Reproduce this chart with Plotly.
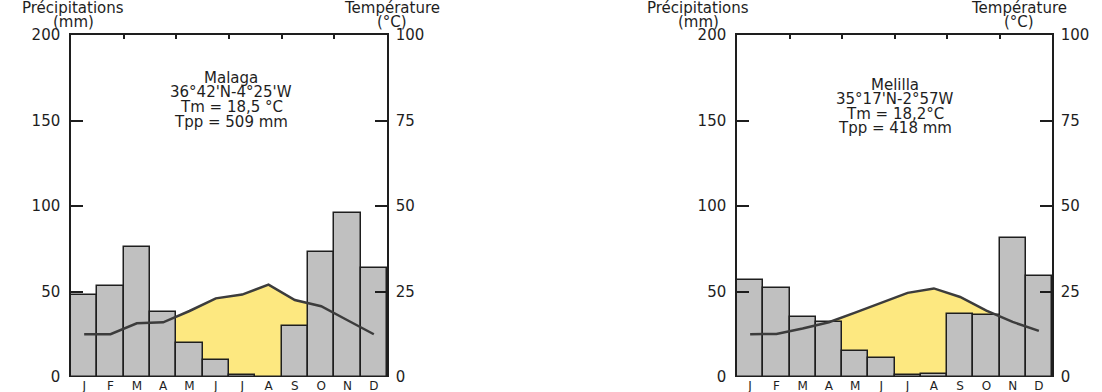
import plotly.graph_objects as go

months = ["J", "F", "M", "A", "M", "J", "J", "A", "S", "O", "N", "D"]

malaga_precip = [48, 53, 76, 38, 20, 10, 1, 0, 30, 73, 96, 64]
malaga_temp = [12.5, 12.5, 15.7, 16.0, 19.3, 23.0, 24.1, 27.0, 22.5, 20.7, 16.6, 12.5]
malaga_text = ["Malaga", "36°42'N-4°25'W", "Tm = 18,5 °C", "Tpp = 509 mm"]

melilla_precip = [57, 52, 35, 32, 15, 11, 1, 2, 37, 36, 81, 59]
melilla_temp = [12.5, 12.6, 14.2, 16.0, 18.8, 21.8, 24.6, 25.9, 23.4, 19.4, 16.1, 13.5]
melilla_text = ["Melilla", "35°17'N-2°57W", "Tm = 18,2°C", "Tpp = 418 mm"]

precip_ticks = [0, 50, 100, 150, 200]
temp_ticks = [0, 25, 50, 75, 100]
top_ticks = [1.5, 3.5, 5.5, 7.5, 9.5]

FONT = "DejaVu Sans"
DARK = "#1e1e1e"
BAR = "#c0c0c0"
YELLOW = "#fde880"
LINE = "#3c3c3c"

W, H = 1102, 392
T, B = 35, 15

xs = list(range(12))

fig = go.Figure()

charts = [
    dict(p=malaga_precip, t=malaga_temp, txt=malaga_text,
         x="x", xt="x3", yt="y", yp="y2", yl="y3",
         dom=[71 / W, 387 / W], ty=[78, 92, 107, 122], cx=231,
         px=73, tx=392),
    dict(p=melilla_precip, t=melilla_temp, txt=melilla_text,
         x="x2", xt="x4", yt="y4", yp="y5", yl="y6",
         dom=[737 / W, 1052 / W], ty=[85, 99, 114, 128], cx=895,
         px=698, tx=1019),
]

def py(pix):
    return (H - B - pix) / (H - T - B)

def name(a):
    return a[0] + "axis" + a[1:]

annotations = []
for c in charts:
    # yellow dry-season area under temperature curve (base layer)
    fig.add_trace(go.Scatter(x=xs, y=c["t"], xaxis=c["x"], yaxis=c["yt"],
                             mode="lines", line=dict(width=0, color=YELLOW),
                             fill="tozeroy", fillcolor=YELLOW, hoverinfo="skip"))
    # precipitation bars (middle layer)
    fig.add_trace(go.Bar(x=xs, y=c["p"], xaxis=c["x"], yaxis=c["yp"],
                         marker=dict(color=BAR, line=dict(color=DARK, width=1.5)),
                         hoverinfo="skip"))
    # temperature line (top layer)
    fig.add_trace(go.Scatter(x=xs, y=c["t"], xaxis=c["xt"], yaxis=c["yl"],
                             mode="lines", line=dict(color=LINE, width=2.5),
                             hoverinfo="skip"))

    fig.layout[name(c["x"])] = dict(
        domain=c["dom"], anchor=c["yt"], range=[-0.5, 11.5],
        tickvals=xs, ticktext=months, ticks="", showline=False,
        showgrid=False, zeroline=False,
        tickfont=dict(family=FONT, size=12, color=DARK))
    fig.layout[name(c["xt"])] = dict(
        overlaying=c["x"], anchor=c["yl"], side="top", range=[-0.5, 11.5],
        tickvals=top_ticks, ticks="inside", ticklen=4, tickwidth=1.5,
        tickcolor=DARK, showticklabels=False, showline=True,
        linecolor=DARK, linewidth=1.5, showgrid=False, zeroline=False)
    fig.layout[name(c["yt"])] = dict(
        anchor=c["x"], side="right", range=[0, 100], tickvals=temp_ticks,
        ticks="inside", ticklen=12, tickwidth=1.5, tickcolor=DARK,
        showline=True, linecolor=DARK, linewidth=1.5, showgrid=False,
        zeroline=False, ticklabelstandoff=4,
        tickfont=dict(family=FONT, size=15, color=DARK))
    fig.layout[name(c["yp"])] = dict(
        overlaying=c["yt"], anchor=c["x"], side="left", range=[0, 200],
        tickvals=precip_ticks, ticks="inside", ticklen=12, tickwidth=1.5,
        tickcolor=DARK, showline=True, linecolor=DARK, linewidth=1.5,
        showgrid=False, zeroline=False, ticklabelstandoff=6,
        tickfont=dict(family=FONT, size=15, color=DARK))
    fig.layout[name(c["yl"])] = dict(
        overlaying=c["yt"], anchor=c["xt"], range=[0, 100], visible=False)

    for line, yy in zip(c["txt"], c["ty"]):
        annotations.append(dict(text=line, x=c["cx"] / W, y=py(yy), xref="paper",
                                yref="paper", showarrow=False,
                                xanchor="center", yanchor="middle",
                                font=dict(family=FONT, size=15, color=DARK)))
    for txt, xx, yy in [("Précipitations", c["px"], 8), ("(mm)", c["px"], 22),
                        ("Température", c["tx"], 8), ("(°C)", c["tx"], 22)]:
        annotations.append(dict(text=txt, x=xx / W, y=py(yy), xref="paper",
                                yref="paper", showarrow=False,
                                xanchor="center", yanchor="middle",
                                font=dict(family=FONT, size=15, color=DARK)))

fig.update_layout(
    width=W, height=H, margin=dict(l=0, r=0, t=T, b=B),
    paper_bgcolor="white", plot_bgcolor="white",
    showlegend=False, bargap=0, hovermode=False,
    annotations=annotations,
)

fig.write_html("out.html", config={"displayModeBar": False},
               post_script="document.body.style.margin='0';document.body.style.overflow='hidden';")
